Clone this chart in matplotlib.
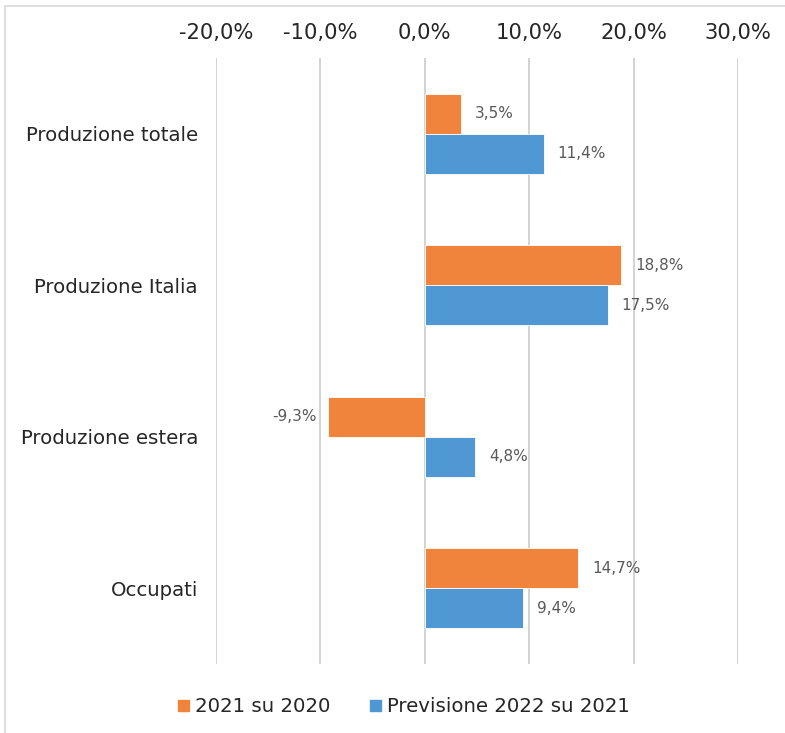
import matplotlib.pyplot as plt
import matplotlib.patches as mpatches
import numpy as np

# Data
categories = ['Produzione totale', 'Produzione Italia', 'Produzione estera', 'Occupati']
val_2021 = [3.5, 18.8, -9.3, 14.7]
val_2022 = [11.4, 17.5, 4.8, 9.4]
xticks = [-20, -10, 0, 10, 20, 30]

orange = '#F0843C'
blue = '#4F98D3'

fig = plt.figure(figsize=(7.85, 7.33), dpi=100, facecolor='white')
ax = fig.add_axes([216 / 785, 1 - 664 / 733, 522 / 785, 606 / 733])

y = np.arange(len(categories))
h = 0.264

bars1 = ax.barh(y - h / 2, val_2021, h, color=orange, edgecolor='white', linewidth=0.6,
                label='2021 su 2020', zorder=3)
bars2 = ax.barh(y + h / 2, val_2022, h, color=blue, edgecolor='white', linewidth=0.6,
                label='Previsione 2022 su 2021', zorder=3)

# Value labels
for bars, vals in [(bars1, val_2021), (bars2, val_2022)]:
    for b, v in zip(bars, vals):
        yc = b.get_y() + b.get_height() / 2
        txt = f'{v:.1f}%'.replace('.', ',')
        if v >= 0:
            ax.annotate(txt, (v, yc), xytext=(10, 0), textcoords='offset points',
                        ha='left', va='center', fontsize=11, color='#595959')
        else:
            ax.annotate(txt, (v, yc), xytext=(-8, 0), textcoords='offset points',
                        ha='right', va='center', fontsize=11, color='#595959')

ax.set_xlim(-20, 30)
ax.set_ylim(3.5, -0.5)
ax.set_xticks(xticks)
ax.set_xticklabels([f'{t:.1f}%'.replace('.', ',') for t in xticks])
ax.xaxis.tick_top()
ax.tick_params(axis='x', length=0, pad=11, labelsize=15.2, labelcolor='#262626')
ax.set_yticks(y)
ax.set_yticklabels(categories)
ax.tick_params(axis='y', length=0, pad=13, labelsize=14.2, labelcolor='#262626')

ax.xaxis.grid(True, color='#D4D4D4', linewidth=1.44, zorder=0)
ax.set_axisbelow(True)
for s in ax.spines.values():
    s.set_visible(False)

# Legend
fig.legend(handles=[mpatches.Patch(color=orange, label='2021 su 2020'),
                    mpatches.Patch(color=blue, label='Previsione 2022 su 2021')],
           loc='center', bbox_to_anchor=(404 / 785, 1 - 707 / 733), ncol=2, frameon=False,
           fontsize=14.2, handlelength=0.55, handleheight=0.55, handletextpad=0.3,
           columnspacing=2.0, labelcolor='#262626')

# Outer border
fig.patches.append(mpatches.Rectangle((5 / 785, -0.01), 1.0, 1 - 6 / 733 + 0.01,
                                      transform=fig.transFigure, fill=False,
                                      edgecolor='#D9D9D9', linewidth=1.2))

plt.savefig('out.png', dpi=100, facecolor='white')
plt.close()
